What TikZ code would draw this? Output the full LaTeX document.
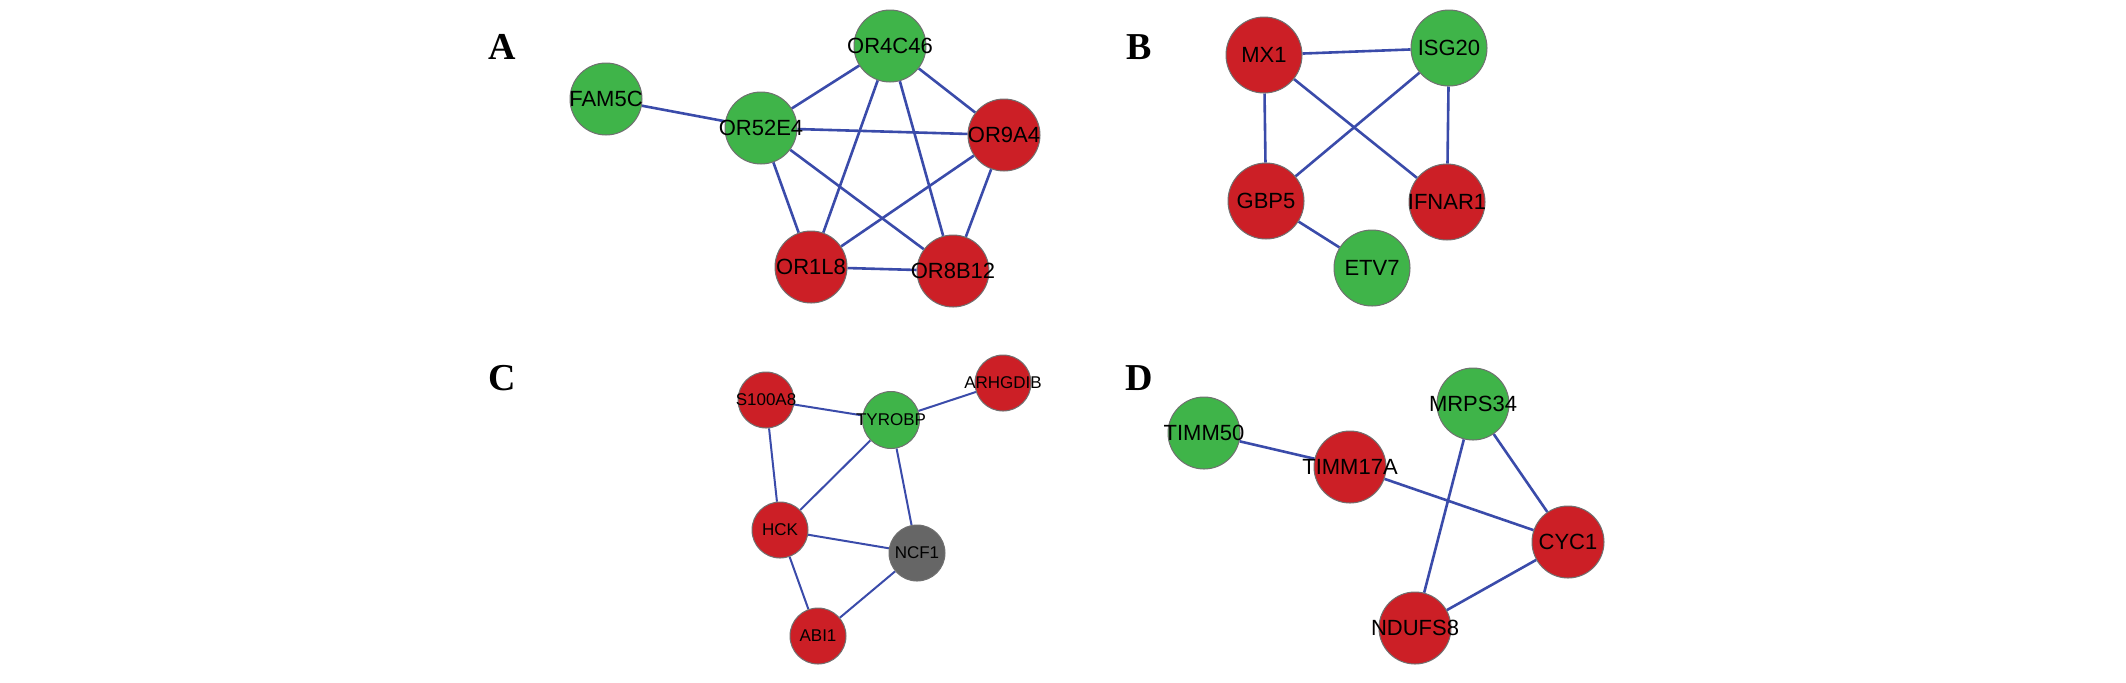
\documentclass[tikz,border=0pt]{standalone}
\usepackage{fontspec}
\setmainfont{Liberation Sans}
\newfontfamily\panelfont{Liberation Serif}
\usetikzlibrary{backgrounds}
\definecolor{ngreen}{HTML}{3FB449}
\definecolor{nred}{HTML}{CC1F26}
\definecolor{ngray}{HTML}{666666}
\definecolor{nedge}{HTML}{3A4BAA}
\definecolor{nborder}{HTML}{707070}
\tikzset{
  gene/.style={circle,draw=nborder,line width=0.5pt,inner sep=0pt,minimum size=36pt,
    font=\fontsize{11}{11}\selectfont},
  gn/.style={gene,fill=ngreen},
  rd/.style={gene,fill=nred},
  gy/.style={gene,fill=ngray},
  small/.style={minimum size=28pt,font=\fontsize{8.5}{8.5}\selectfont},
  big/.style={minimum size=38pt},
  link/.style={draw=nedge,line width=1.3pt},
  thinlink/.style={draw=nedge,line width=1pt},
  panel/.style={font=\panelfont\bfseries\fontsize{19}{19}\selectfont,inner sep=0pt}
}
\newcommand{\gl}[1]{\makebox[0pt]{#1}}
\begin{document}
\begin{tikzpicture}[x=0.5pt,y=-0.5pt]
\useasboundingbox (0,0) rectangle (2126,682);
% Panel labels
\node[panel] (lA) at (502,47) {A};
\node[panel] (lB) at (1139,47) {B};
\node[panel] (lC) at (502,378) {C};
\node[panel] (lD) at (1139,378) {D};
% Panel A
\node[gn] (fam5c) at (606,99) {\gl{FAM5C}};
\node[gn] (or52e4) at (761,128) {\gl{OR52E4}};
\node[gn] (or4c46) at (890,46) {\gl{OR4C46}};
\node[rd] (or9a4) at (1004,135) {\gl{OR9A4}};
\node[rd] (or1l8) at (811,267) {\gl{OR1L8}};
\node[rd] (or8b12) at (953,271) {\gl{OR8B12}};
% Panel B
\node[rd,big] (mx1) at (1264,55) {\gl{MX1}};
\node[gn,big] (isg20) at (1449,48) {\gl{ISG20}};
\node[rd,big] (gbp5) at (1266,201) {\gl{GBP5}};
\node[rd,big] (ifnar1) at (1447,202) {\gl{IFNAR1}};
\node[gn,big] (etv7) at (1372,268) {\gl{ETV7}};
% Panel C
\node[rd,small] (s100a8) at (766,400) {\gl{S100A8}};
\node[gn,small,minimum size=28.5pt] (tyrobp) at (891,420) {\gl{TYROBP}};
\node[rd,small] (arhgdib) at (1003,383) {\gl{ARHGDIB}};
\node[rd,small] (hck) at (780,530) {\gl{HCK}};
\node[gy,small] (ncf1) at (917,553) {\gl{NCF1}};
\node[rd,small] (abi1) at (818,636) {\gl{ABI1}};
% Panel D
\node[gn] (timm50) at (1204,433) {\gl{TIMM50}};
\node[rd] (timm17a) at (1350,467) {\gl{TIMM17A}};
\node[gn] (mrps34) at (1473,404) {\gl{MRPS34}};
\node[rd] (cyc1) at (1568,542) {\gl{CYC1}};
\node[rd] (ndufs8) at (1415,628) {\gl{NDUFS8}};
\begin{scope}[on background layer]
  % A
  \draw[link] (fam5c) -- (or52e4);
  \draw[link] (or52e4) -- (or4c46);
  \draw[link] (or52e4) -- (or9a4);
  \draw[link] (or52e4) -- (or1l8);
  \draw[link] (or52e4) -- (or8b12);
  \draw[link] (or4c46) -- (or9a4);
  \draw[link] (or4c46) -- (or1l8);
  \draw[link] (or4c46) -- (or8b12);
  \draw[link] (or9a4) -- (or1l8);
  \draw[link] (or9a4) -- (or8b12);
  \draw[link] (or1l8) -- (or8b12);
  % B
  \draw[link] (mx1) -- (isg20);
  \draw[link] (mx1) -- (gbp5);
  \draw[link] (mx1) -- (ifnar1);
  \draw[link] (isg20) -- (gbp5);
  \draw[link] (isg20) -- (ifnar1);
  \draw[link] (gbp5) -- (etv7);
  % C
  \draw[thinlink] (s100a8) -- (tyrobp);
  \draw[thinlink] (tyrobp) -- (arhgdib);
  \draw[thinlink] (s100a8) -- (hck);
  \draw[thinlink] (tyrobp) -- (hck);
  \draw[thinlink] (tyrobp) -- (ncf1);
  \draw[thinlink] (hck) -- (ncf1);
  \draw[thinlink] (hck) -- (abi1);
  \draw[thinlink] (ncf1) -- (abi1);
  % D
  \draw[link] (timm50) -- (timm17a);
  \draw[link] (timm17a) -- (cyc1);
  \draw[link] (mrps34) -- (cyc1);
  \draw[link] (mrps34) -- (ndufs8);
  \draw[link] (cyc1) -- (ndufs8);
\end{scope}
\end{tikzpicture}
\end{document}
